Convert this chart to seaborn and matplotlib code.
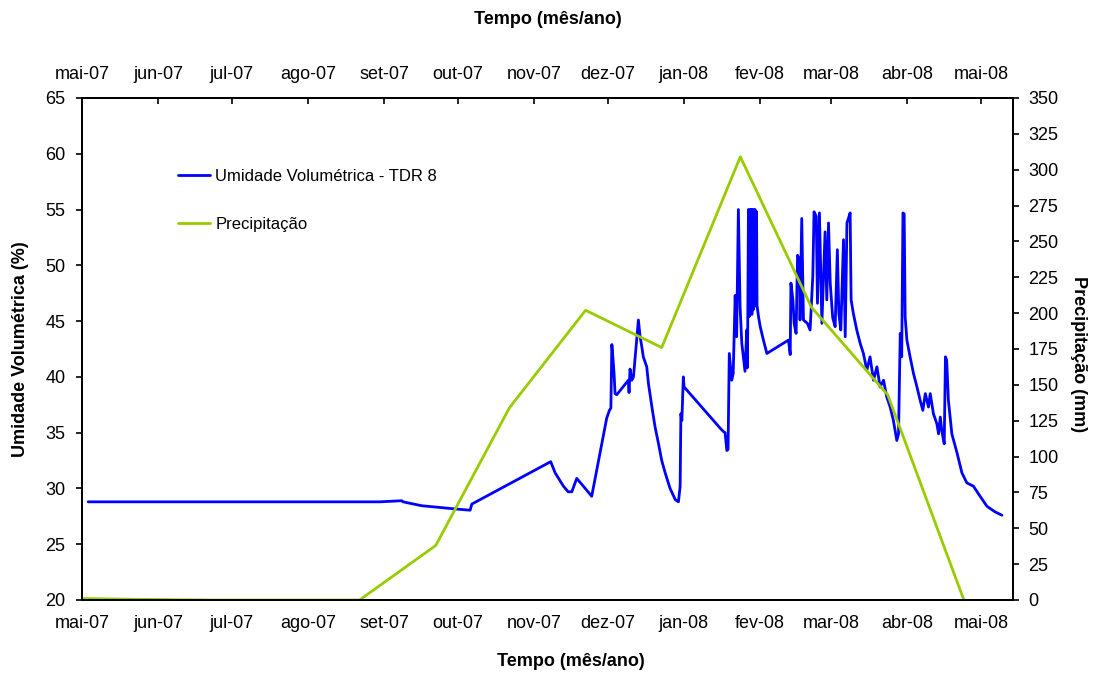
import numpy as np
import pandas as pd
import matplotlib
matplotlib.use("Agg")
import matplotlib.pyplot as plt
import matplotlib.dates as mdates
import seaborn as sns

# ---------------- data ----------------
start_date = "2007-05-01"

# TDR 8 volumetric moisture: day offset from start_date, value (%)
tdr_day = [2.5, 121.3, 130.2, 130.7, 138.3, 152.6, 158.0, 158.7, 190.8, 192.6,
           196.0, 197.9, 199.4, 201.4, 204.1, 207.5, 213.6, 214.7, 215.3, 215.7,
           216.1, 216.6, 217.0, 217.7, 222.4, 222.7, 223.1, 223.8, 224.5, 226.5,
           227.2, 227.9, 228.5, 229.9, 230.6, 232.0, 233.3, 234.7, 236.0, 237.4,
           239.4, 241.5, 242.8, 243.5, 243.8, 244.2, 244.8, 245.1, 259.8, 261.1,
           261.8, 262.5, 263.0, 263.5, 264.5, 265.1, 265.9, 266.5, 267.2, 267.9,
           268.6, 269.9, 270.6, 270.8, 271.0, 271.3, 271.6, 271.9, 272.1, 272.4,
           272.7, 272.9, 273.2, 273.5, 273.7, 274.0, 274.3, 274.6, 274.8, 275.4,
           276.1, 277.4, 278.8, 287.6, 288.3, 288.6, 289.4, 289.9, 290.7, 291.3,
           292.1, 292.3, 293.0, 293.7, 295.3, 296.4, 297.5, 298.0, 298.9, 299.4,
           300.2, 301.2, 302.5, 303.2, 303.9, 304.6, 305.6, 306.6, 307.5, 308.1,
           308.9, 310.0, 310.7, 311.4, 312.0, 312.7, 313.1, 314.0, 315.4, 316.8,
           318.1, 319.5, 320.8, 322.2, 323.6, 324.9, 326.3, 327.6, 329.0, 330.3,
           331.7, 332.4, 333.1, 333.7, 334.2, 334.7, 335.1, 335.8, 337.1, 338.5,
           339.9, 341.2, 342.3, 343.3, 344.6, 345.3, 346.6, 348.0, 348.7, 349.4,
           350.0, 351.0, 351.5, 352.0, 352.7, 354.1, 356.2, 358.2, 360.2, 362.9,
           365.6, 368.4, 371.7, 374.5]
tdr_value = [28.8, 28.8, 28.9, 28.8, 28.45, 28.15, 28.05, 28.6, 32.4, 31.4,
             30.2, 29.7, 29.7, 30.9, 30.2, 29.3, 36.3, 37.0, 37.2, 42.9,
             41.8, 40.3, 38.5, 38.4, 39.7, 38.6, 40.7, 39.7, 40.0, 45.1,
             43.6, 42.7, 41.8, 40.9, 39.4, 37.3, 35.5, 34.0, 32.5, 31.4,
             30.0, 29.0, 28.8, 30.2, 36.7, 36.1, 40.0, 39.1, 35.4, 35.1,
             35.0, 33.4, 33.5, 42.1, 39.7, 40.3, 47.3, 43.6, 55.0, 46.3,
             43.0, 40.5, 44.2, 40.8, 44.0, 55.0, 45.4, 55.0, 45.8, 55.0,
             45.6, 55.0, 46.0, 55.0, 46.3, 55.0, 46.5, 54.8, 46.4, 45.4,
             44.5, 43.3, 42.1, 43.3, 42.0, 48.4, 46.9, 44.8, 43.9, 50.9,
             50.5, 45.1, 54.2, 45.1, 44.8, 44.2, 49.0, 54.8, 54.4, 46.6,
             54.7, 44.8, 53.0, 46.9, 53.8, 48.4, 45.3, 44.5, 51.4, 45.7,
             44.2, 52.3, 43.6, 53.8, 54.2, 54.7, 46.9, 45.7, 44.2, 43.0,
             42.1, 40.6, 41.8, 39.7, 40.9, 39.1, 39.7, 38.2, 37.3, 36.1,
             34.3, 34.9, 43.9, 41.8, 54.7, 54.6, 45.4, 43.3, 41.8, 40.3,
             39.1, 37.9, 37.0, 38.5, 37.3, 38.5, 36.7, 35.8, 34.9, 36.4,
             35.2, 34.0, 41.8, 41.5, 37.9, 34.9, 33.2, 31.4, 30.5, 30.2,
             29.3, 28.4, 27.9, 27.6]

# Monthly precipitation (mm)
precip_dates = ["2007-05-01", "2007-05-22", "2007-06-22", "2007-07-22", "2007-08-22",
                "2007-09-22", "2007-10-22", "2007-11-22", "2007-12-23", "2008-01-24",
                "2008-02-22", "2008-03-24", "2008-04-24"]
precip_mm = [1.0, 0.5, 0.0, 0.0, 0.0, 38.0, 134.0, 202.0, 176.0, 309.0, 204.0, 143.0, 0.0]

month_ticks = ["2007-05-01", "2007-06-01", "2007-07-01", "2007-08-01", "2007-09-01",
               "2007-10-01", "2007-11-01", "2007-12-01", "2008-01-01", "2008-02-01",
               "2008-03-01", "2008-04-01", "2008-05-01"]
month_labels = ["mai-07", "jun-07", "jul-07", "ago-07", "set-07", "out-07", "nov-07",
                "dez-07", "jan-08", "fev-08", "mar-08", "abr-08", "mai-08"]

left_ticks = [20, 25, 30, 35, 40, 45, 50, 55, 60, 65]
right_ticks = [0, 25, 50, 75, 100, 125, 150, 175, 200, 225, 250, 275, 300, 325, 350]

# ---------------- frames ----------------
tdr_df = pd.DataFrame({
    "data": pd.to_datetime(start_date) + pd.to_timedelta(tdr_day, unit="D"),
    "umidade": tdr_value,
})
prec_df = pd.DataFrame({"data": pd.to_datetime(precip_dates), "precip": precip_mm})

# ---------------- style ----------------
sns.set_style("white")
plt.rcParams["font.family"] = ["Liberation Sans", "DejaVu Sans"]
plt.rcParams["font.size"] = 13
for k in ("text.color", "axes.labelcolor", "xtick.color", "ytick.color", "axes.edgecolor"):
    plt.rcParams[k] = "black"

BLUE = "#0000FF"
GREEN = "#99CC00"
FS = 13

fig = plt.figure(figsize=(10.99, 6.75), dpi=100)
ax = fig.add_axes([82 / 1099, 1 - 600 / 675, (1013 - 82) / 1099, (600 - 98) / 675])
ax2 = ax.twinx()

sns.lineplot(data=tdr_df, x="data", y="umidade", ax=ax, color=BLUE, linewidth=2.0,
             sort=False, estimator=None, label="Umidade Volumétrica - TDR 8", legend=False)
sns.lineplot(data=prec_df, x="data", y="precip", ax=ax2, color=GREEN, linewidth=2.0,
             sort=False, estimator=None, label="Precipitação", legend=False)

tick_pos = mdates.date2num(pd.to_datetime(month_ticks))
ax.set_xlim(mdates.date2num(pd.Timestamp("2007-05-01")),
            mdates.date2num(pd.Timestamp("2008-05-14")))
ax.set_xticks(tick_pos)
ax.set_xticklabels(month_labels, fontsize=FS)

ax.set_ylim(20, 65)
ax.set_yticks(left_ticks)
ax.set_yticklabels([str(v) for v in left_ticks], fontsize=FS)
ax2.set_ylim(0, 350)
ax2.set_yticks(right_ticks)
ax2.set_yticklabels([str(v) for v in right_ticks], fontsize=FS)

ax.tick_params(axis="x", direction="out", length=4, width=1.2, pad=7, colors="black")
ax.tick_params(axis="y", direction="out", length=4, width=1.2, pad=8, colors="black")
ax2.tick_params(axis="y", direction="out", length=4, width=1.2, pad=7, colors="black")

# top date axis
top = ax.secondary_xaxis("top")
top.set_xticks(tick_pos)
top.set_xticklabels(month_labels, fontsize=FS)
top.tick_params(axis="x", direction="in", length=4, width=1.2, pad=11, colors="black")
top.set_xlabel("Tempo (mês/ano)", fontsize=FS, fontweight="bold", labelpad=30)

ax.set_xlabel("Tempo (mês/ano)", fontsize=FS, fontweight="bold", ha="center", va="center")
ax.xaxis.set_label_coords(0.525, -0.1235)
ax.set_ylabel("Umidade Volumétrica (%)", fontsize=FS, fontweight="bold",
              ha="center", va="center")
ax.yaxis.set_label_coords(-0.066, 0.5)
ax2.set_ylabel("Precipitação (mm)", fontsize=FS, fontweight="bold", rotation=270,
               ha="center", va="center")
ax2.yaxis.set_label_coords(1.070, 0.49)

for a in (ax, ax2):
    for s in a.spines.values():
        s.set_color("black")
        s.set_linewidth(1.4)
top.spines["top"].set_linewidth(1.4)

h1, l1 = ax.get_legend_handles_labels()
h2, l2 = ax2.get_legend_handles_labels()
leg = ax.legend(h1 + h2, l1 + l2, loc="upper left", bbox_to_anchor=(0.103, 0.858),
                frameon=False, fontsize=12, handlelength=1.9, handletextpad=0.35,
                labelspacing=1.95, borderpad=0, borderaxespad=0)

fig.savefig("out.png", dpi=100, facecolor="white")
